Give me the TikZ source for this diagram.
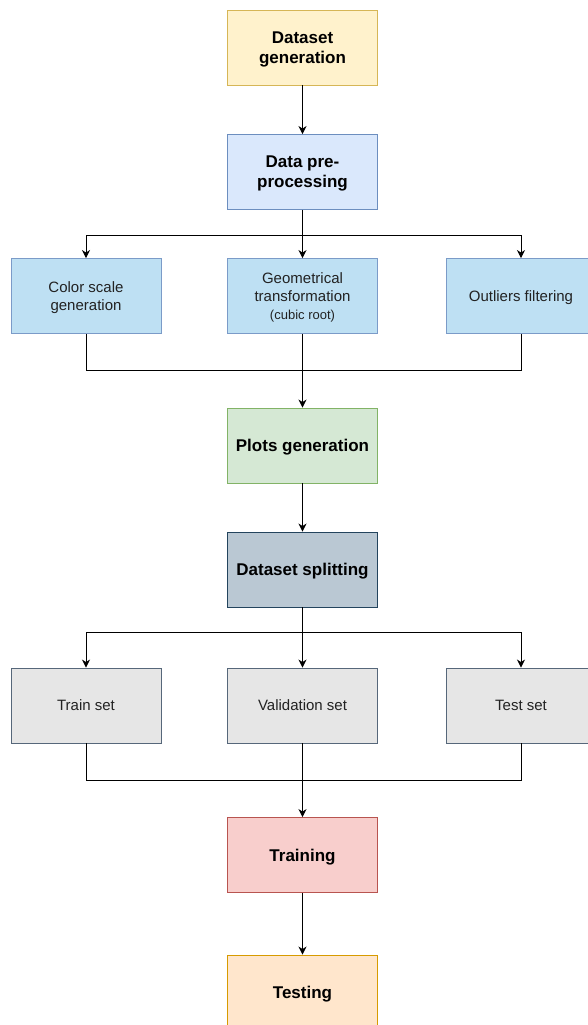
\documentclass[tikz,border=0pt]{standalone}
\usepackage{fontspec}
\setmainfont{Liberation Sans}
\usetikzlibrary{arrows.meta}
\definecolor{yfill}{HTML}{FFF2CC}\definecolor{ydraw}{HTML}{D6B656}
\definecolor{bfill}{HTML}{DAE8FC}\definecolor{bdraw}{HTML}{6C8EBF}
\definecolor{lbfill}{HTML}{BEE0F3}\definecolor{lbdraw}{HTML}{7B9BC8}
\definecolor{gfill}{HTML}{D5E8D4}\definecolor{gdraw}{HTML}{82B366}
\definecolor{sfill}{HTML}{BAC8D3}\definecolor{sdraw}{HTML}{23445D}
\definecolor{grfill}{HTML}{E6E6E6}\definecolor{grdraw}{HTML}{56677A}
\definecolor{rfill}{HTML}{F8CECC}\definecolor{rdraw}{HTML}{B85450}
\definecolor{ofill}{HTML}{FFE6CC}\definecolor{odraw}{HTML}{D79B00}
\definecolor{subtxt}{HTML}{222222}
\begin{document}
\begin{tikzpicture}[x=1pt,y=-1pt,
  box/.style={rectangle,minimum width=150pt,minimum height=75pt,inner sep=0pt,align=center,line width=0.9pt,text depth=0pt},
  main/.style={box,font=\fontsize{17}{20}\selectfont\bfseries},
  sub/.style={box,font=\fontsize{15}{18}\selectfont,text=subtxt},
  arr/.style={-{Stealth[length=8pt,width=8pt,inset=2.5pt]},line width=0.9pt},
  ln/.style={line width=0.9pt}]
\useasboundingbox[fill=white] (0,0) rectangle (587,1025);
\node[main,fill=yfill,draw=ydraw] (dg) at (302.5,47.5) {Dataset\\generation};
\node[main,fill=bfill,draw=bdraw] (dp) at (302.5,172) {Data pre-\\processing};
\node[sub,fill=lbfill,draw=lbdraw] (cs) at (86,296) {Color scale\\generation};
\node[sub,fill=lbfill,draw=lbdraw] (gt) at (302.5,296) {Geometrical\\transformation\\{\fontsize{13}{16}\selectfont (cubic root)}};
\node[sub,fill=lbfill,draw=lbdraw] (of) at (521,296) {Outliers filtering};
\node[main,fill=gfill,draw=gdraw] (pg) at (302.5,445.5) {Plots generation};
\node[main,fill=sfill,draw=sdraw] (ds) at (302.5,569.5) {Dataset splitting};
\node[sub,fill=grfill,draw=grdraw] (tr) at (86,705.5) {Train set};
\node[sub,fill=grfill,draw=grdraw] (va) at (302.5,705.5) {Validation set};
\node[sub,fill=grfill,draw=grdraw] (te) at (521,705.5) {Test set};
\node[main,fill=rfill,draw=rdraw] (tn) at (302.5,855) {Training};
\node[main,fill=ofill,draw=odraw] (ts) at (302.5,992.5) {Testing};
\coordinate (f1) at (302.5,235);
\coordinate (j1) at (302.5,370);
\coordinate (f2) at (302.5,632);
\coordinate (j2) at (302.5,780);
\draw[arr] (dg) -- (dp);
\draw[ln] (dp) -- (f1);
\draw[arr] (f1) -| (cs);
\draw[arr] (f1) -- (gt);
\draw[arr] (f1) -| (of);
\draw[ln] (cs) |- (j1);
\draw[ln] (of) |- (j1);
\draw[arr] (gt) -- (pg);
\draw[arr] (pg) -- (ds);
\draw[ln] (ds) -- (f2);
\draw[arr] (f2) -| (tr);
\draw[arr] (f2) -- (va);
\draw[arr] (f2) -| (te);
\draw[ln] (tr) |- (j2);
\draw[ln] (te) |- (j2);
\draw[arr] (va) -- (tn);
\draw[arr] (tn) -- (ts);
\end{tikzpicture}
\end{document}
